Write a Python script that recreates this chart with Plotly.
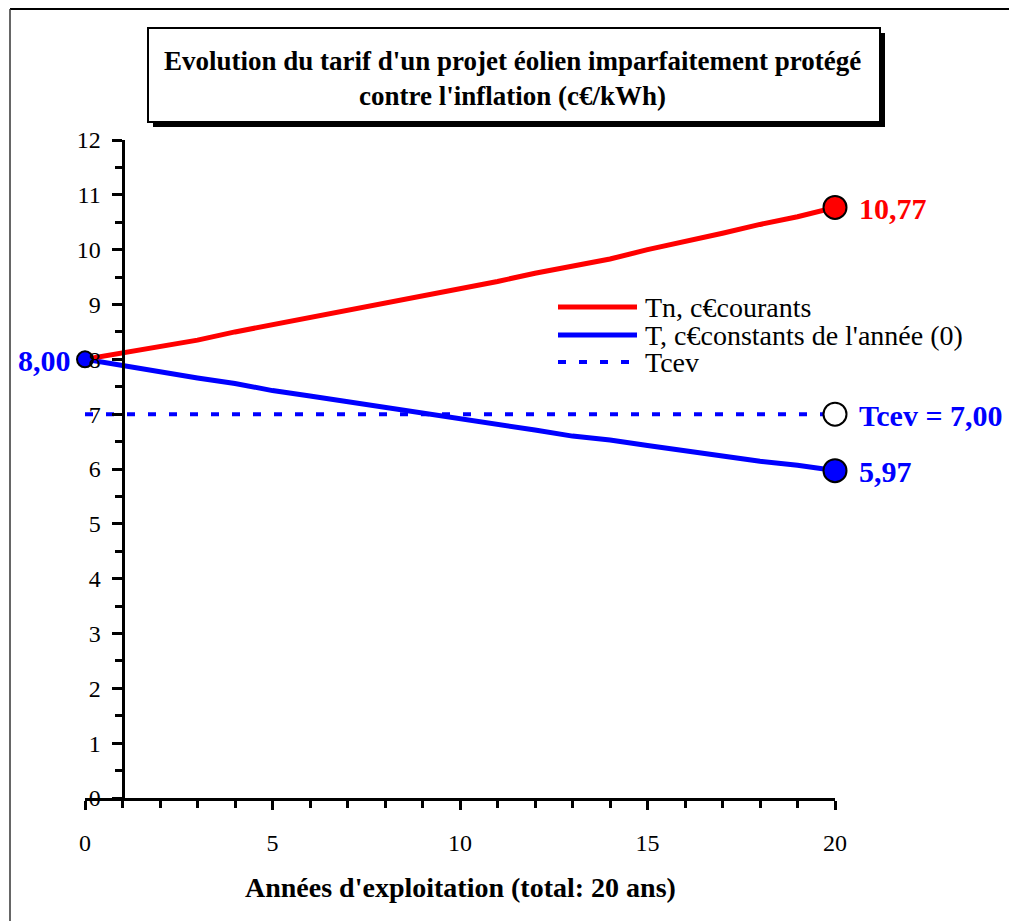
import plotly.graph_objects as go

# ---------------- data ----------------
years = list(range(0, 21))
tn_courants = [8.00, 8.12, 8.25, 8.35, 8.50, 8.63, 8.75, 8.88, 9.02, 9.15, 9.28,
               9.42, 9.57, 9.70, 9.83, 10.00, 10.14, 10.30, 10.46, 10.60, 10.77]
t_constants = [8.00, 7.88, 7.76, 7.66, 7.56, 7.43, 7.33, 7.23, 7.13, 7.01, 6.91,
               6.81, 6.71, 6.60, 6.53, 6.43, 6.33, 6.23, 6.14, 6.07, 5.97]
tcev_value = 7.00
tcev = [tcev_value] * len(years)

series_names = ["Tn, c€courants", "T, c€constants de l'année (0)", "Tcev"]
title_text = "Evolution du tarif d'un projet éolien imparfaitement protégé<br>contre l'inflation (c€/kWh)"
xaxis_title = "Années d'exploitation (total: 20 ans)"
x_ticks = [0, 5, 10, 15, 20]
y_ticks = list(range(0, 13))

RED = "#FF0000"
BLUE = "#0000FF"
FONT = "Liberation Serif, Times New Roman, serif"

# plot-area geometry (pixels) used only for decorations
W, H = 1009, 921
L, R, T, B = 85, 835, 140, 798


def px(x):
    return (x - L) / (R - L)


def py(y):
    return (B - y) / (B - T)


def fmt(v):
    return f"{v:.2f}".replace(".", ",")


fig = go.Figure()

# lines
fig.add_trace(go.Scatter(x=years, y=t_constants, mode="lines",
                         line=dict(color=BLUE, width=5), cliponaxis=False,
                         showlegend=False))
fig.add_trace(go.Scatter(x=years, y=tn_courants, mode="lines",
                         line=dict(color=RED, width=5), cliponaxis=False,
                         showlegend=False))
fig.add_trace(go.Scatter(x=years, y=tcev, mode="lines",
                         line=dict(color=BLUE, width=4, dash="8px,13px"),
                         cliponaxis=False, showlegend=False))

# end markers
fig.add_trace(go.Scatter(x=[years[0]], y=[t_constants[0]], mode="markers",
                         marker=dict(size=16, color=BLUE, line=dict(color="black", width=2)),
                         cliponaxis=False, showlegend=False))
fig.add_trace(go.Scatter(x=[years[-1]], y=[tn_courants[-1]], mode="markers",
                         marker=dict(size=23, color=RED, line=dict(color="black", width=2)),
                         cliponaxis=False, showlegend=False))
fig.add_trace(go.Scatter(x=[years[-1]], y=[t_constants[-1]], mode="markers",
                         marker=dict(size=23, color=BLUE, line=dict(color="black", width=2)),
                         cliponaxis=False, showlegend=False))
fig.add_trace(go.Scatter(x=[years[-1]], y=[tcev[-1]], mode="markers",
                         marker=dict(size=23, color="white", line=dict(color="black", width=2)),
                         cliponaxis=False, showlegend=False))

annotations = []
# value labels
annotations.append(dict(x=years[-1], y=tn_courants[-1], xref="x", yref="y",
                        text=f"<b>{fmt(tn_courants[-1])}</b>", showarrow=False,
                        xanchor="left", yanchor="middle", xshift=22, yshift=-1,
                        font=dict(family=FONT, size=30, color=RED)))
annotations.append(dict(x=years[-1], y=t_constants[-1], xref="x", yref="y",
                        text=f"<b>{fmt(t_constants[-1])}</b>", showarrow=False,
                        xanchor="left", yanchor="middle", xshift=22, yshift=-1,
                        font=dict(family=FONT, size=30, color=BLUE)))
annotations.append(dict(x=years[-1], y=tcev[-1], xref="x", yref="y",
                        text=f"<b>Tcev = {fmt(tcev[-1])}</b>", showarrow=False,
                        xanchor="left", yanchor="middle", xshift=22, yshift=-1,
                        font=dict(family=FONT, size=30, color=BLUE)))
annotations.append(dict(x=years[0], y=t_constants[0], xref="x", yref="y",
                        text=f"<b>{fmt(t_constants[0])}</b>", showarrow=False,
                        xanchor="right", yanchor="middle", xshift=-12, yshift=-1,
                        font=dict(family=FONT, size=30, color=BLUE)))

# title
annotations.append(dict(x=px(512), y=py(79), xref="paper", yref="paper",
                        text=f"<b>{title_text}</b>", showarrow=False,
                        xanchor="center", yanchor="middle", align="center",
                        font=dict(family=FONT, size=27, color="black")))
# x-axis title
annotations.append(dict(x=px(460), y=py(887), xref="paper", yref="paper",
                        text=f"<b>{xaxis_title}</b>", showarrow=False,
                        xanchor="center", yanchor="middle",
                        font=dict(family=FONT, size=28, color="black")))

# manual legend
legend_rows = [(307, RED, "solid"), (335, BLUE, "solid"), (362, BLUE, "dash")]
shapes = []
for (yy, col, dsh), name in zip(legend_rows, series_names):
    if dsh == "solid":
        shapes.append(dict(type="line", xref="paper", yref="paper",
                           x0=px(558), x1=px(637), y0=py(yy), y1=py(yy),
                           line=dict(color=col, width=5)))
    else:
        shapes.append(dict(type="line", xref="paper", yref="paper",
                           x0=px(558), x1=px(634), y0=py(yy), y1=py(yy),
                           line=dict(color=col, width=4, dash="8px,13px")))
    annotations.append(dict(x=px(643), y=py(yy), xref="paper", yref="paper",
                            text=name, showarrow=False, xanchor="left",
                            yanchor="middle",
                            font=dict(family=FONT, size=28, color="black")))

# title box with shadow
shapes.append(dict(type="rect", xref="paper", yref="paper",
                   x0=px(153), x1=px(885), y0=py(33), y1=py(127),
                   fillcolor="black", line=dict(color="black", width=0), layer="below"))
shapes.append(dict(type="rect", xref="paper", yref="paper",
                   x0=px(148), x1=px(880), y0=py(28), y1=py(122),
                   fillcolor="white", line=dict(color="black", width=2), layer="below"))
# outer frame (top & left)
shapes.append(dict(type="line", xref="paper", yref="paper",
                   x0=px(10), x1=px(1010), y0=py(9), y1=py(9),
                   line=dict(color="black", width=2)))
shapes.append(dict(type="line", xref="paper", yref="paper",
                   x0=px(10), x1=px(10), y0=py(9), y1=py(922),
                   line=dict(color="#333333", width=1.5)))

fig.update_layout(
    width=W, height=H,
    margin=dict(l=L, r=W - R, t=T, b=H - B, pad=0),
    paper_bgcolor="white", plot_bgcolor="white",
    showlegend=False,
    annotations=annotations,
    shapes=shapes,
    xaxis=dict(range=[0, 20], showline=True, linewidth=3, linecolor="black",
               ticks="outside", tickvals=x_ticks, ticklen=9, tickwidth=3,
               tickcolor="black",
               minor=dict(dtick=1, tick0=0, ticks="outside", ticklen=7,
                          tickwidth=3, tickcolor="black"),
               showgrid=False, zeroline=False,
               tickfont=dict(family=FONT, size=24, color="black"),
               ticklabelstandoff=12),
    yaxis=dict(range=[0, 12], anchor="free", position=0.05,
               showline=True, linewidth=3, linecolor="black",
               ticks="outside", tickvals=y_ticks, ticklen=10, tickwidth=3,
               tickcolor="black",
               minor=dict(dtick=0.5, tick0=0, ticks="outside", ticklen=7,
                          tickwidth=3, tickcolor="black"),
               showgrid=False, zeroline=False,
               tickfont=dict(family=FONT, size=24, color="black"),
               ticklabelstandoff=6),
)

fig.write_html("out.html")
